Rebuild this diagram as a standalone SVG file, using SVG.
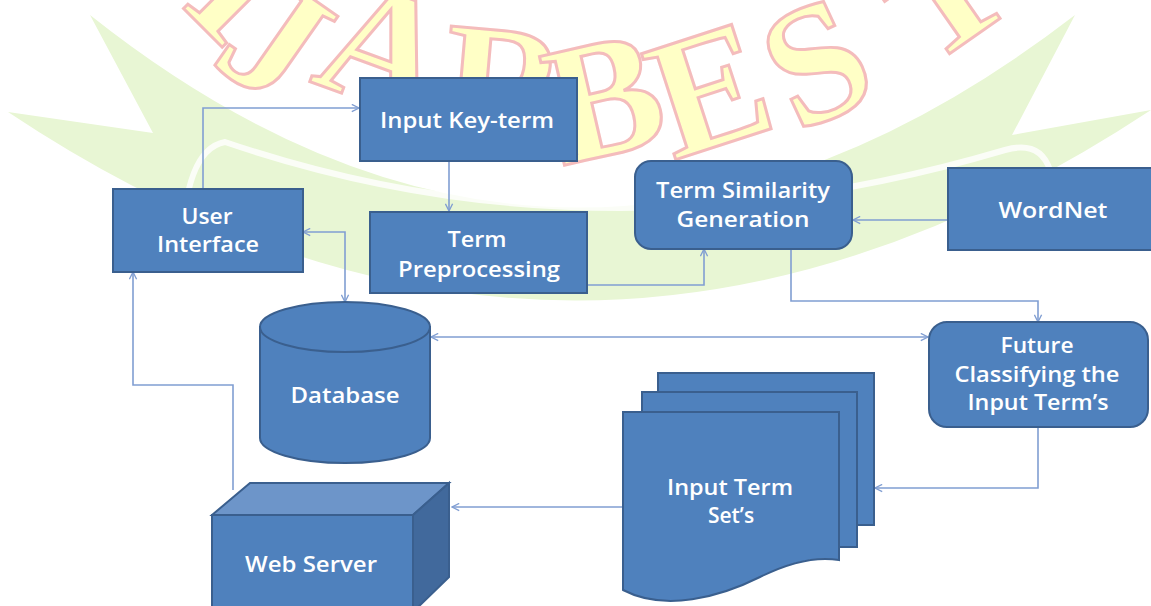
<svg xmlns="http://www.w3.org/2000/svg" width="1151" height="606" viewBox="0 0 1151 606">
<defs>
<style>
.box{fill:#4f81bd;stroke:#3a5f8e;stroke-width:2}
.dark{fill:#41699c;stroke:#3a5f8e;stroke-width:2}
.light{fill:#6d95c9;stroke:#3a5f8e;stroke-width:2}
.t{font-family:"Open Sans","Liberation Sans",sans-serif;font-size:21px;font-weight:600;fill:#ffffff;text-anchor:middle}
.c{fill:none;stroke:#809ed2;stroke-width:1.6}
.wm{font-family:"Liberation Serif",serif;font-size:170px;font-weight:bold;fill:#ffffc6;stroke:#f4bcbc;stroke-width:3;text-anchor:middle}
</style>
<marker id="ah" viewBox="0 0 10 10" refX="9" refY="5" markerWidth="9" markerHeight="9" markerUnits="userSpaceOnUse" orient="auto-start-reverse">
<path d="M1,1 L9,5 L1,9" fill="none" stroke="#809ed2" stroke-width="1.5"/>
</marker>
</defs>
<rect width="1151" height="606" fill="#ffffff"/>
<g id="watermark">
<path d="M90,15 Q575,400 1075,15 L1012,135 L1151,110 Q575,490 8,112 L153,133 Z" fill="#e8f6d4"/>
<path d="M182,262 Q182,150 225,142 Q600,270 1005,150 Q1040,140 1050,170" fill="none" stroke="#ffffff" stroke-width="6" opacity="0.8"/>
<text class="wm" transform="translate(203,28) rotate(45)">I</text>
<text class="wm" transform="translate(243,86) rotate(35)">J</text>
<text class="wm" transform="translate(366,102) rotate(20)">A</text>
<text class="wm" transform="translate(500,142) rotate(5)">R</text>
<text class="wm" transform="translate(617,153) rotate(-13)">B</text>
<text class="wm" transform="translate(727,143) rotate(-18)">E</text>
<text class="wm" transform="translate(840,114) rotate(-25)">S</text>
<text class="wm" transform="translate(975,36) rotate(-35)">T</text>
</g>
<g id="connectors">
<path class="c" d="M203,188 V108 H359" marker-end="url(#ah)"/>
<path class="c" d="M449,161 V211" marker-end="url(#ah)"/>
<path class="c" d="M587,285 H704 V249" marker-end="url(#ah)"/>
<path class="c" d="M948,220 H853" marker-end="url(#ah)"/>
<path class="c" d="M791,249 V301 H1038 V322" marker-end="url(#ah)"/>
<path class="c" d="M431,337 H928" marker-start="url(#ah)" marker-end="url(#ah)"/>
<path class="c" d="M303,232 H345 V302" marker-start="url(#ah)" marker-end="url(#ah)"/>
<path class="c" d="M1038,427 V488 H875" marker-end="url(#ah)"/>
<path class="c" d="M623,507 H452" marker-end="url(#ah)"/>
<path class="c" d="M233,490 V385 H133 V272" marker-end="url(#ah)"/>
</g>
<g id="input-key-term">
<rect class="box" x="360" y="78" width="217" height="83"/>
<text class="t" x="467" y="128" textLength="174" lengthAdjust="spacingAndGlyphs">Input Key-term</text>
</g>
<g id="user-interface">
<rect class="box" x="113" y="189" width="190" height="83"/>
<text class="t" x="207" y="224" textLength="51" lengthAdjust="spacingAndGlyphs">User</text>
<text class="t" x="208" y="252" textLength="102" lengthAdjust="spacingAndGlyphs">Interface</text>
</g>
<g id="term-preprocessing">
<rect class="box" x="370" y="212" width="217" height="81"/>
<text class="t" x="477" y="247" textLength="59" lengthAdjust="spacingAndGlyphs">Term</text>
<text class="t" x="479" y="277" textLength="162" lengthAdjust="spacingAndGlyphs">Preprocessing</text>
</g>
<g id="term-similarity-generation">
<rect class="box" x="635" y="161" width="217" height="88" rx="16"/>
<text class="t" x="743" y="198" textLength="174" lengthAdjust="spacingAndGlyphs">Term Similarity</text>
<text class="t" x="743" y="227" textLength="133" lengthAdjust="spacingAndGlyphs">Generation</text>
</g>
<g id="wordnet">
<rect class="box" x="948" y="168" width="215" height="82"/>
<text class="t" x="1053" y="218" textLength="109" lengthAdjust="spacingAndGlyphs">WordNet</text>
</g>
<g id="database">
<path class="box" d="M260,327 V438 A85,25 0 0 0 430,438 V327 Z"/>
<ellipse class="box" cx="345" cy="327" rx="85" ry="25"/>
<text class="t" x="345" y="403" textLength="109" lengthAdjust="spacingAndGlyphs">Database</text>
</g>
<g id="future-classifying">
<rect class="box" x="929" y="322" width="219" height="105" rx="18"/>
<text class="t" x="1037" y="353" textLength="73" lengthAdjust="spacingAndGlyphs">Future</text>
<text class="t" x="1037" y="382" textLength="165" lengthAdjust="spacingAndGlyphs">Classifying the</text>
<text class="t" x="1038" y="410" textLength="141" lengthAdjust="spacingAndGlyphs">Input Term’s</text>
</g>
<g id="input-term-sets">
<rect class="box" x="658" y="373" width="216" height="152"/>
<rect class="box" x="642" y="392" width="215" height="155"/>
<path class="box" d="M623,412 H839 V560 C815,556 790,562 760,577 C720,597 665,612 623,590 Z"/>
<text class="t" x="730" y="495" textLength="126" lengthAdjust="spacingAndGlyphs">Input Term</text>
<text class="t" x="731" y="523">Set’s</text>
</g>
<g id="web-server">
<polygon class="light" points="212,515 250,483 449,483 413,515"/>
<polygon class="dark" points="413,515 449,483 449,577 413,612"/>
<rect class="box" x="212" y="515" width="201" height="100"/>
<text class="t" x="311" y="572" textLength="132" lengthAdjust="spacingAndGlyphs">Web Server</text>
</g>
</svg>
